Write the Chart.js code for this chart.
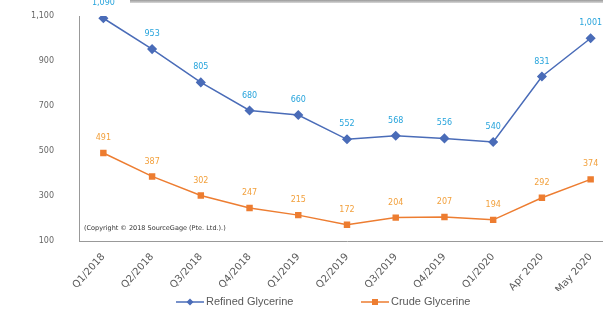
<!DOCTYPE html>
<html lang="en">
<head>
<meta charset="UTF-8" />
<title>Glycerine Prices</title>
<script src="https://cdn.jsdelivr.net/npm/chart.js"></script>
<style>
  html, body { margin: 0; padding: 0; background: #fff; overflow: hidden; }
  #wrap { position: relative; width: 603px; height: 309px; overflow: hidden; }
  #topbar { position: absolute; left: 130px; top: 0; width: 473px; height: 3px;
            background: linear-gradient(#9a9a9a, #d8d8d8); }
  canvas { position: absolute; left: 0; top: 0; }
</style>
</head>
<body>
<div id="wrap">
  <canvas id="chart" width="627" height="309"></canvas>
  <div id="topbar"></div>
</div>
<script>
const categories = ['Q1/2018','Q2/2018','Q3/2018','Q4/2018','Q1/2019','Q2/2019','Q3/2019','Q4/2019','Q1/2020','Apr 2020','May 2020'];
const refined = [1090, 953, 805, 680, 660, 552, 568, 556, 540, 831, 1001];
const crude = [491, 387, 302, 247, 215, 172, 204, 207, 194, 292, 374];
const yTicks = [100, 300, 500, 700, 900, 1100];

const fmt = v => v.toLocaleString('en-US');

// value labels above each point + copyright note
const pointLabels = {
  id: 'pointLabels',
  afterDatasetsDraw(chart) {
    const ctx = chart.ctx;
    ctx.save();
    ctx.font = '8px "DejaVu Sans"';
    ctx.textAlign = 'center';
    ctx.textBaseline = 'middle';
    chart.data.datasets.forEach((ds, i) => {
      ctx.fillStyle = ds.labelColor;
      chart.getDatasetMeta(i).data.forEach((pt, j) => {
        ctx.fillText(fmt(ds.data[j]), pt.x, pt.y - 15);
      });
    });
    ctx.fillStyle = '#333';
    ctx.textAlign = 'left';
    ctx.font = '6.5px "DejaVu Sans"';
    ctx.fillText('(Copyright \u00A9 2018 SourceGage (Pte. Ltd.).)', chart.chartArea.left + 5, chart.chartArea.bottom - 13);
    ctx.restore();
  }
};

// legend with line + marker
const lineLegend = {
  id: 'lineLegend',
  afterDraw(chart) {
    const ctx = chart.ctx;
    ctx.save();
    ctx.font = '11px "Liberation Sans"';
    ctx.textBaseline = 'middle';
    const y = 302;
    const items = [
      { x: 176, ds: chart.data.datasets[0] },
      { x: 361, ds: chart.data.datasets[1] }
    ];
    items.forEach(it => {
      ctx.strokeStyle = it.ds.borderColor;
      ctx.lineWidth = 1.5;
      ctx.beginPath();
      ctx.moveTo(it.x, y);
      ctx.lineTo(it.x + 28, y);
      ctx.stroke();
      ctx.fillStyle = it.ds.borderColor;
      const cx = it.x + 14;
      if (it.ds.pointStyle === 'rectRot') {
        ctx.beginPath();
        ctx.moveTo(cx, y - 3.5); ctx.lineTo(cx + 3.5, y); ctx.lineTo(cx, y + 3.5); ctx.lineTo(cx - 3.5, y);
        ctx.closePath(); ctx.fill();
      } else {
        ctx.fillRect(cx - 3, y - 3, 6, 6);
      }
      ctx.fillStyle = '#595959';
      ctx.fillText(it.ds.label, it.x + 30, y);
    });
    ctx.restore();
  }
};

new Chart(document.getElementById('chart'), {
  type: 'line',
  data: {
    labels: categories,
    datasets: [
      { label: 'Refined Glycerine', data: refined, borderColor: '#4a6cb8', backgroundColor: '#4a6cb8',
        labelColor: '#27a4dc', pointStyle: 'rectRot', pointRadius: 4, borderWidth: 1.5, tension: 0 },
      { label: 'Crude Glycerine', data: crude, borderColor: '#ed7d31', backgroundColor: '#ed7d31',
        labelColor: '#f2a03c', pointStyle: 'rect', pointRadius: 3.5, borderWidth: 1.5, tension: 0 }
    ]
  },
  options: {
    responsive: false,
    animation: false,
    layout: { padding: { top: 16, bottom: 18, right: 12, left: 0 } },
    plugins: { legend: { display: false }, tooltip: { enabled: false } },
    scales: {
      x: {
        offset: true,
        grid: { display: false },
        border: { display: true, color: '#999', width: 1 },
        ticks: { color: '#595959', font: { size: 10, family: '"DejaVu Sans"' }, minRotation: 48, maxRotation: 48, padding: 2 },
        afterFit(scale) { scale.height = 50; }
      },
      y: {
        min: 100, max: 1100,
        afterBuildTicks(scale) { scale.ticks = yTicks.map(v => ({ value: v })); },
        grid: { display: false },
        border: { display: true, color: '#999', width: 1 },
        ticks: { color: '#666', font: { size: 8, family: '"DejaVu Sans"' }, padding: 17, callback: v => fmt(v) },
        afterFit(scale) { scale.width = 79; scale.paddingTop = 0; scale.paddingBottom = 0; }
      }
    }
  },
  plugins: [pointLabels, lineLegend]
});
</script>
</body>
</html>
